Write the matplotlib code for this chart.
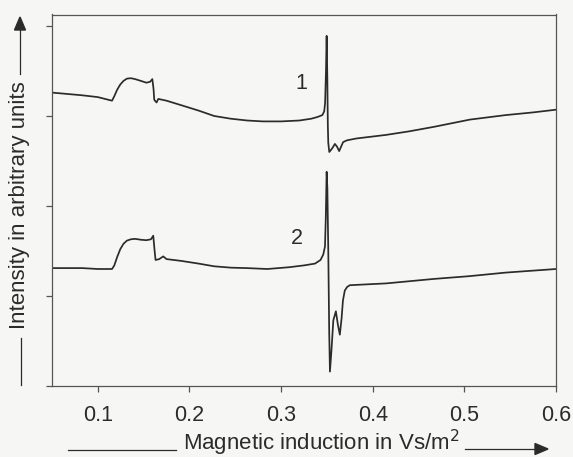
import matplotlib
matplotlib.use("Agg")
import matplotlib.pyplot as plt
from matplotlib.lines import Line2D

# ---- data ----
x1 = [0.050, 0.083, 0.100, 0.1155, 0.118, 0.121, 0.1245, 0.128, 0.1317, 0.136,
      0.1407, 0.147, 0.153, 0.157, 0.1595, 0.1608, 0.1616, 0.1641, 0.166, 0.175,
      0.191, 0.210, 0.227, 0.245, 0.263, 0.280, 0.300, 0.320, 0.333, 0.340,
      0.345, 0.347, 0.348, 0.349, 0.3497, 0.3505, 0.351, 0.3515, 0.3526, 0.355,
      0.357, 0.3587, 0.361, 0.3634, 0.3655, 0.3677, 0.372, 0.382, 0.4146, 0.440,
      0.467, 0.506, 0.545, 0.575, 0.600]
y1 = [3.26, 3.23, 3.21, 3.17, 3.22, 3.29, 3.35, 3.39, 3.415, 3.42,
      3.41, 3.39, 3.37, 3.38, 3.41, 3.30, 3.18, 3.15, 3.19, 3.17,
      3.12, 3.06, 3.00, 2.97, 2.95, 2.94, 2.94, 2.95, 2.97, 2.99,
      3.01, 3.05, 3.14, 3.50, 3.89, 3.40, 2.90, 2.70, 2.60, 2.63,
      2.66, 2.69, 2.66, 2.61, 2.66, 2.71, 2.73, 2.75, 2.79, 2.83,
      2.88, 2.96, 3.01, 3.04, 3.07]

x2 = [0.050, 0.083, 0.100, 0.1155, 0.118, 0.121, 0.1245, 0.128, 0.1317, 0.136,
      0.1407, 0.147, 0.153, 0.158, 0.1605, 0.162, 0.163, 0.167, 0.1714, 0.175,
      0.191, 0.210, 0.227, 0.245, 0.263, 0.285, 0.309, 0.325, 0.337, 0.343,
      0.346, 0.3479, 0.3488, 0.3497, 0.3505, 0.3515, 0.3525, 0.3533, 0.355, 0.357,
      0.3598, 0.362, 0.3641, 0.366, 0.3675, 0.3695, 0.372, 0.375, 0.4146, 0.467,
      0.505, 0.545, 0.600]
y2 = [1.31, 1.31, 1.30, 1.30, 1.34, 1.43, 1.52, 1.58, 1.615, 1.63,
      1.635, 1.625, 1.62, 1.63, 1.67, 1.50, 1.40, 1.41, 1.44, 1.41,
      1.39, 1.36, 1.33, 1.315, 1.31, 1.30, 1.32, 1.34, 1.36, 1.40,
      1.46, 1.55, 1.88, 2.38, 2.20, 1.50, 0.60, 0.16, 0.40, 0.73,
      0.83, 0.68, 0.57, 0.75, 0.95, 1.06, 1.10, 1.12, 1.14, 1.19,
      1.22, 1.26, 1.30]

curve_labels = ["1", "2"]
label_pos = [(0.322, 3.36), (0.317, 1.64)]

xticks = [0.1, 0.2, 0.3, 0.4, 0.5, 0.6]
xticklabels = ["0.1", "0.2", "0.3", "0.4", "0.5", "0.6"]
yticks = [0, 1, 2, 3, 4]

# ---- figure ----
W, H = 573, 457
bg = "#f6f6f4"
ink = "#2b2b2b"
plt.rcParams["font.family"] = ["Liberation Sans", "DejaVu Sans"]

fig = plt.figure(figsize=(W / 100, H / 100), dpi=100, facecolor=bg)
L, R, T, B = 52, 556, 14.5, 386
ax = fig.add_axes([L / W, 1 - B / H, (R - L) / W, (B - T) / H])
ax.set_facecolor(bg)

ax.plot(x1, y1, color=ink, lw=1.25, solid_joinstyle="round")
ax.plot(x2, y2, color=ink, lw=1.25, solid_joinstyle="round")
for lab, (lx, ly) in zip(curve_labels, label_pos):
    ax.text(lx, ly, lab, fontsize=15.5, color=ink, ha="center", va="center")

ax.set_xlim(0.05, 0.6)
ax.set_ylim(0, 4 + 11.5 / 90)
ax.set_xticks(xticks)
ax.set_xticklabels(xticklabels, fontsize=15.5, color=ink)
ax.set_yticks(yticks)
ax.set_yticklabels([])
ax.tick_params(direction="out", length=4, width=0.9, color="#555555", pad=10)
for s in ax.spines.values():
    s.set_color("#555555")
    s.set_linewidth(0.9)

def fx(px):
    return px / W

def fy(py):
    return 1 - py / H

# x-axis label with arrow
fig.text(fx(321.5), fy(443), "Magnetic induction in Vs/m$^2$", fontsize=16,
         color=ink, ha="center", va="center")
fig.add_artist(Line2D([fx(68), fx(176)], [fy(450), fy(450)], color=ink, lw=0.9,
                      transform=fig.transFigure))
fig.add_artist(Line2D([fx(465), fx(537)], [fy(449), fy(449)], color=ink, lw=0.9,
                      transform=fig.transFigure))
fig.patches.append(plt.Polygon([[fx(535), fy(443.5)], [fx(535), fy(454.5)], [fx(548), fy(449)]],
                               closed=True, color=ink, transform=fig.transFigure))

# y-axis label with arrow
fig.text(fx(20), fy(205), "Intensity in arbitrary units", fontsize=16, color=ink,
         rotation=90, ha="center", va="center")
fig.add_artist(Line2D([fx(20.5), fx(20.5)], [fy(385), fy(338)], color=ink, lw=0.9,
                      transform=fig.transFigure))
fig.add_artist(Line2D([fx(20), fx(20)], [fy(74), fy(28)], color=ink, lw=0.9,
                      transform=fig.transFigure))
fig.patches.append(plt.Polygon([[fx(14.5), fy(30)], [fx(25.5), fy(30)], [fx(20), fy(17)]],
                               closed=True, color=ink, transform=fig.transFigure))

fig.savefig("out.png", dpi=100, facecolor=bg)
